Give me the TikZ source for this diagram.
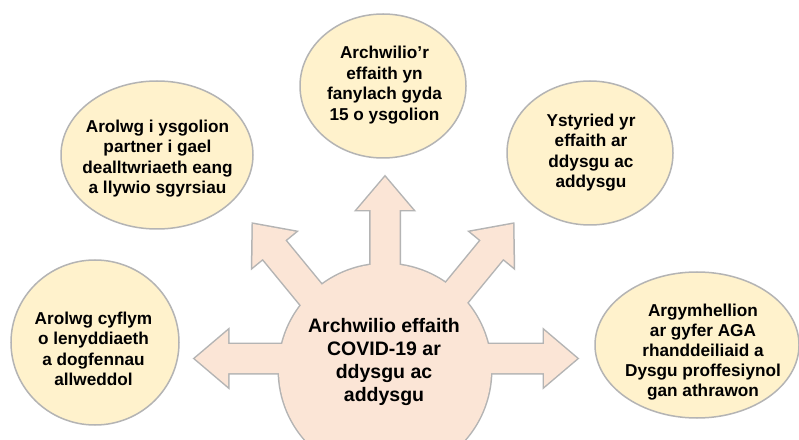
\documentclass[tikz,border=0pt]{standalone}
\usepackage{fontspec}
\setmainfont{Liberation Sans}
\usetikzlibrary{shapes.geometric}
\definecolor{bubblefill}{RGB}{255,242,204}
\definecolor{hubfill}{RGB}{251,229,214}
\definecolor{edgegray}{RGB}{180,180,180}
\begin{document}
\begin{tikzpicture}[x=1pt,y=1pt,
  bubble/.style={ellipse, draw=edgegray, fill=bubblefill, line width=1.5pt, inner sep=0pt},
  btext/.style={align=center, font=\bfseries\fontsize{17.2}{20.5}\selectfont, inner sep=0pt},
  hubtext/.style={align=center, font=\bfseries\fontsize{19.5}{23}\selectfont, inner sep=0pt},
  hubline/.style={draw=edgegray, line width=3pt, line join=miter},
  hubfillst/.style={fill=hubfill}]
\useasboundingbox (0,0) rectangle (799,439);
\clip (0,0) rectangle (799,439);
\fill[white] (0,0) rectangle (799,439);

% central shape: outline pass
\draw[hubline] (385,69) circle (106);
\foreach \tx/\ty/\ang/\len in {385/262/90/142, 195/80.5/180/140, 577/80.5/0/140, 253/215/129.4/150, 513/215/50.6/150}{
  \begin{scope}[shift={(\tx,\ty)},rotate=\ang]
    \draw[hubline] (0,0) -- (-33,28) -- (-33,14.5) -- (-\len,14.5) -- (-\len,-14.5) -- (-33,-14.5) -- (-33,-28) -- cycle;
  \end{scope}
}
% central shape: fill pass
\fill[hubfillst] (385,69) circle (106);
\foreach \tx/\ty/\ang/\len in {385/262/90/142, 195/80.5/180/140, 577/80.5/0/140, 253/215/129.4/150, 513/215/50.6/150}{
  \begin{scope}[shift={(\tx,\ty)},rotate=\ang]
    \fill[hubfillst] (0,0) -- (-33,28) -- (-33,14.5) -- (-\len,14.5) -- (-\len,-14.5) -- (-33,-14.5) -- (-33,-28) -- cycle;
  \end{scope}
}
\node[hubtext] (hub) at (384,77.5) {Archwilio effaith\\COVID-19 ar\\ddysgu ac\\addysgu};

% bubbles
\node[bubble, minimum width=192pt, minimum height=148pt] (e1) at (157,284) {};
\node[btext] (t1) at (157.5,280.5) {Arolwg i ysgolion\\partner i gael\\dealltwriaeth eang\\a llywio sgyrsiau};

\node[bubble, minimum width=166pt, minimum height=144pt] (e2) at (383,353) {};
\node[btext] (t2) at (384.5,354) {Archwilio’r\\effaith yn\\fanylach gyda\\15 o ysgolion};

\node[bubble, minimum width=166pt, minimum height=144pt] (e3) at (590,286) {};
\node[btext] (t3) at (591,286.5) {Ystyried yr\\effaith ar\\ddysgu ac\\addysgu};

\node[bubble, minimum width=168pt, minimum height=165pt] (e4) at (95,96.5) {};
\node[btext] (t4) at (93.5,90) {Arolwg cyflym\\o lenyddiaeth\\a dogfennau\\allweddol};

\node[bubble, minimum width=204pt, minimum height=146pt] (e5) at (697,94) {};
\node[btext, font=\bfseries\fontsize{17.2}{20}\selectfont] (t5) at (703,87) {Argymhellion\\ar gyfer AGA\\rhanddeiliaid a\\Dysgu proffesiynol\\gan athrawon};
\end{tikzpicture}
\end{document}
